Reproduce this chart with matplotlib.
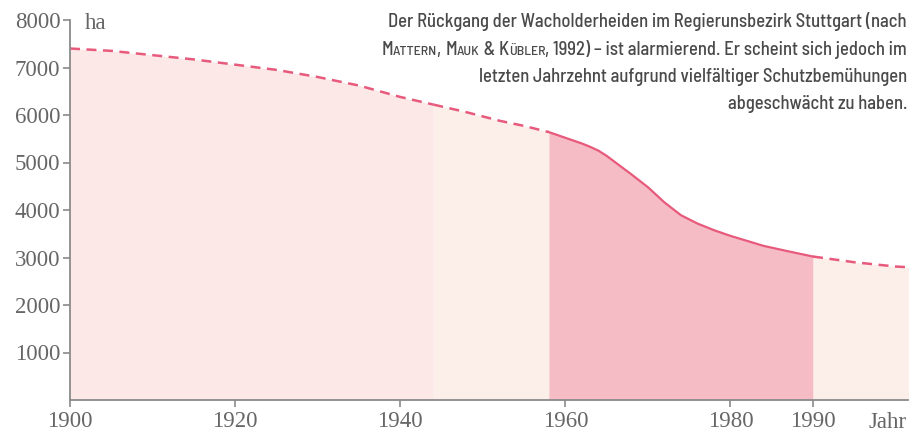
import matplotlib
matplotlib.use("Agg")
import matplotlib.pyplot as plt
from matplotlib.offsetbox import TextArea, HPacker, VPacker, AnnotationBbox

# area of juniper heaths (ha)
years = [1900, 1905, 1910, 1915, 1920, 1925, 1930, 1935, 1940, 1944, 1948, 1952,
         1955, 1958, 1960, 1962, 1963, 1964, 1965, 1966, 1967, 1968, 1970, 1972,
         1974, 1976, 1978, 1980, 1984, 1987, 1990, 1995, 2000, 2002]
area = [7400, 7350, 7260, 7170, 7060, 6950, 6800, 6620, 6380, 6220, 6060, 5880,
        5770, 5640, 5520, 5400, 5330, 5250, 5140, 5010, 4880, 4750, 4480, 4160,
        3890, 3715, 3575, 3455, 3245, 3130, 3020, 2900, 2810, 2790]

xticks = [1900, 1920, 1940, 1960, 1980, 1990]
yticks = [1000, 2000, 3000, 4000, 5000, 6000, 7000, 8000]

# periods: (start, end, fill colour, solid line?)
periods = [(1900, 1944, "#fbe8e7", False),
           (1944, 1958, "#fcefea", False),
           (1958, 1990, "#f6bcc5", True),
           (1990, 2002, "#fcefea", False)]

line_col = "#e85a7c"
grey = "#666666"

fig = plt.figure(figsize=(9.10, 4.33), dpi=100)
ax = fig.add_axes([70 / 910, 33 / 433, 838 / 910, 380 / 433])

for start, end, col, solid in periods:
    xs = [x for x in years if start <= x <= end]
    ys = [area[years.index(x)] for x in xs]
    ax.fill_between(xs, 0, ys, color=col, lw=0, zorder=1)
    if solid:
        ax.plot(xs, ys, color=line_col, lw=1.6, zorder=3)
    else:
        ax.plot(xs, ys, color=line_col, lw=1.8, ls=(0, (4, 2.6)), zorder=3)

ax.set_xlim(1900, 2001.5)
ax.set_ylim(0, 8000)

for s in ["top", "right"]:
    ax.spines[s].set_visible(False)
for s in ["left", "bottom"]:
    ax.spines[s].set_color("#8a8a8a")
    ax.spines[s].set_linewidth(1.3)
    ax.spines[s].set_zorder(4)

serif = ["Liberation Serif", "DejaVu Serif"]
ax.set_xticks(xticks)
ax.set_xticklabels([str(x) for x in xticks], family=serif, fontsize=16.5, color=grey)
ax.set_yticks(yticks)
ax.set_yticklabels([str(y) for y in yticks], family=serif, fontsize=16.5, color=grey)
ax.tick_params(axis="both", color="#8a8a8a", width=1.2, length=5, pad=2)
ax.tick_params(axis="x", pad=3)

ax.text(0.018, 0.976, "ha", transform=ax.transAxes, family=serif, fontsize=16.5,
        color=grey, va="baseline", ha="left")
fig.text(907 / 910, 5 / 433, "Jahr", family=serif, fontsize=16.5, color=grey,
         va="baseline", ha="right")

# description, with small caps for the authors
sans = ["Barlow Semi Condensed", "DejaVu Sans"]
big = dict(family=sans, fontsize=13.4, color="#4a4a4a", fontweight="medium")
small = dict(family=sans, fontsize=10, color="#4a4a4a", fontweight="medium")


def row(parts):
    boxes = [TextArea(t, textprops=(small if sc else big)) for t, sc in parts]
    return HPacker(children=boxes, sep=0, pad=0, align="baseline")


lines = [
    row([("Der Rückgang der Wacholderheiden im Regierunsbezirk Stuttgart (nach", False)]),
    row([("M", False), ("ATTERN", True), (", ", False), ("M", False), ("AUK", True),
         (" & ", False), ("K", False), ("ÜBLER", True),
         (", 1992) – ist alarmierend. Er scheint sich jedoch im", False)]),
    row([("letzten Jahrzehnt aufgrund vielfältiger Schutzbemühungen", False)]),
    row([("abgeschwächt zu haben.", False)]),
]
block = VPacker(children=lines, sep=6.5, pad=0, align="right")
ab = AnnotationBbox(block, (907 / 910, 1 - 12 / 433), xycoords="figure fraction",
                    box_alignment=(1, 1), frameon=False, pad=0)
fig.add_artist(ab)

fig.savefig("out.png", dpi=100)
